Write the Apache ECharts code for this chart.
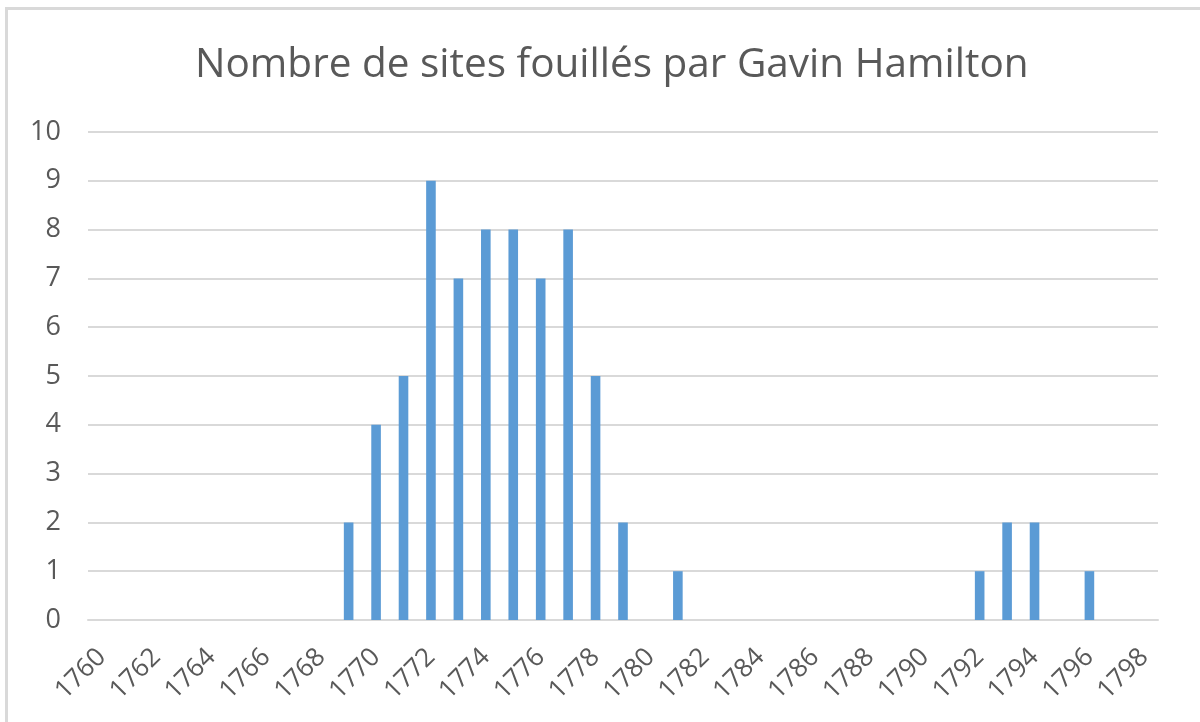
<!DOCTYPE html>
<html>
<head>
<meta charset="utf-8">
<script src="https://cdn.jsdelivr.net/npm/echarts@6/dist/echarts.min.js"></script>
<style>html,body{margin:0;padding:0;background:#fff}#c{width:1200px;height:722px}</style>
</head>
<body>
<div id="c"></div>
<script>
const titleText = "Nombre de sites fouillés par Gavin Hamilton";
const years = [];
for (let y = 1760; y <= 1798; y++) years.push(String(y));
const yearsWithSites = [1769,1770,1771,1772,1773,1774,1775,1776,1777,1778,1779,1781,1792,1793,1794,1796];
const siteCounts    = [2,   4,   5,   9,   7,   8,   8,   7,   8,   5,   2,   1,   1,   2,   2,   1];
const yTicks = {min: 0, max: 10, interval: 1};

const values = years.map(y => {
  const i = yearsWithSites.indexOf(Number(y));
  return i >= 0 ? siteCounts[i] : 0;
});

const chart = echarts.init(document.getElementById('c'));
chart.setOption({
  animation: false,
  backgroundColor: '#ffffff',
  title: {
    text: titleText,
    left: 190,
    top: 40,
    textStyle: {fontFamily: 'Open Sans', fontSize: 40.5, fontWeight: 'normal', color: '#595959'}
  },
  graphic: [{
    type: 'polyline', silent: true,
    shape: {points: [[6.5, 740], [6.5, 8.5], [1220, 8.5]]},
    style: {stroke: '#D9D9D9', lineWidth: 3, fill: null}
  }],
  grid: {left: 88, right: 42, top: 132, bottom: 102, containLabel: false, outerBoundsMode: 'none'},
  xAxis: {
    type: 'category',
    data: years,
    axisLine: {lineStyle: {color: '#D9D9D9', width: 2}},
    axisTick: {show: false},
    axisLabel: {
      interval: 1, rotate: 45, margin: 33, hideOverlap: false,
      fontFamily: 'Open Sans', fontSize: 26, color: '#595959'
    }
  },
  yAxis: {
    type: 'value',
    min: yTicks.min, max: yTicks.max, interval: yTicks.interval,
    axisLine: {show: false},
    axisTick: {show: false},
    splitLine: {lineStyle: {color: '#D9D9D9', width: 2}},
    axisLabel: {margin: 27, fontFamily: 'Open Sans', fontSize: 27, color: '#595959'}
  },
  series: [{
    type: 'bar',
    data: values,
    barWidth: '35%',
    itemStyle: {color: '#5B9BD5'}
  }]
});
</script>
</body>
</html>
